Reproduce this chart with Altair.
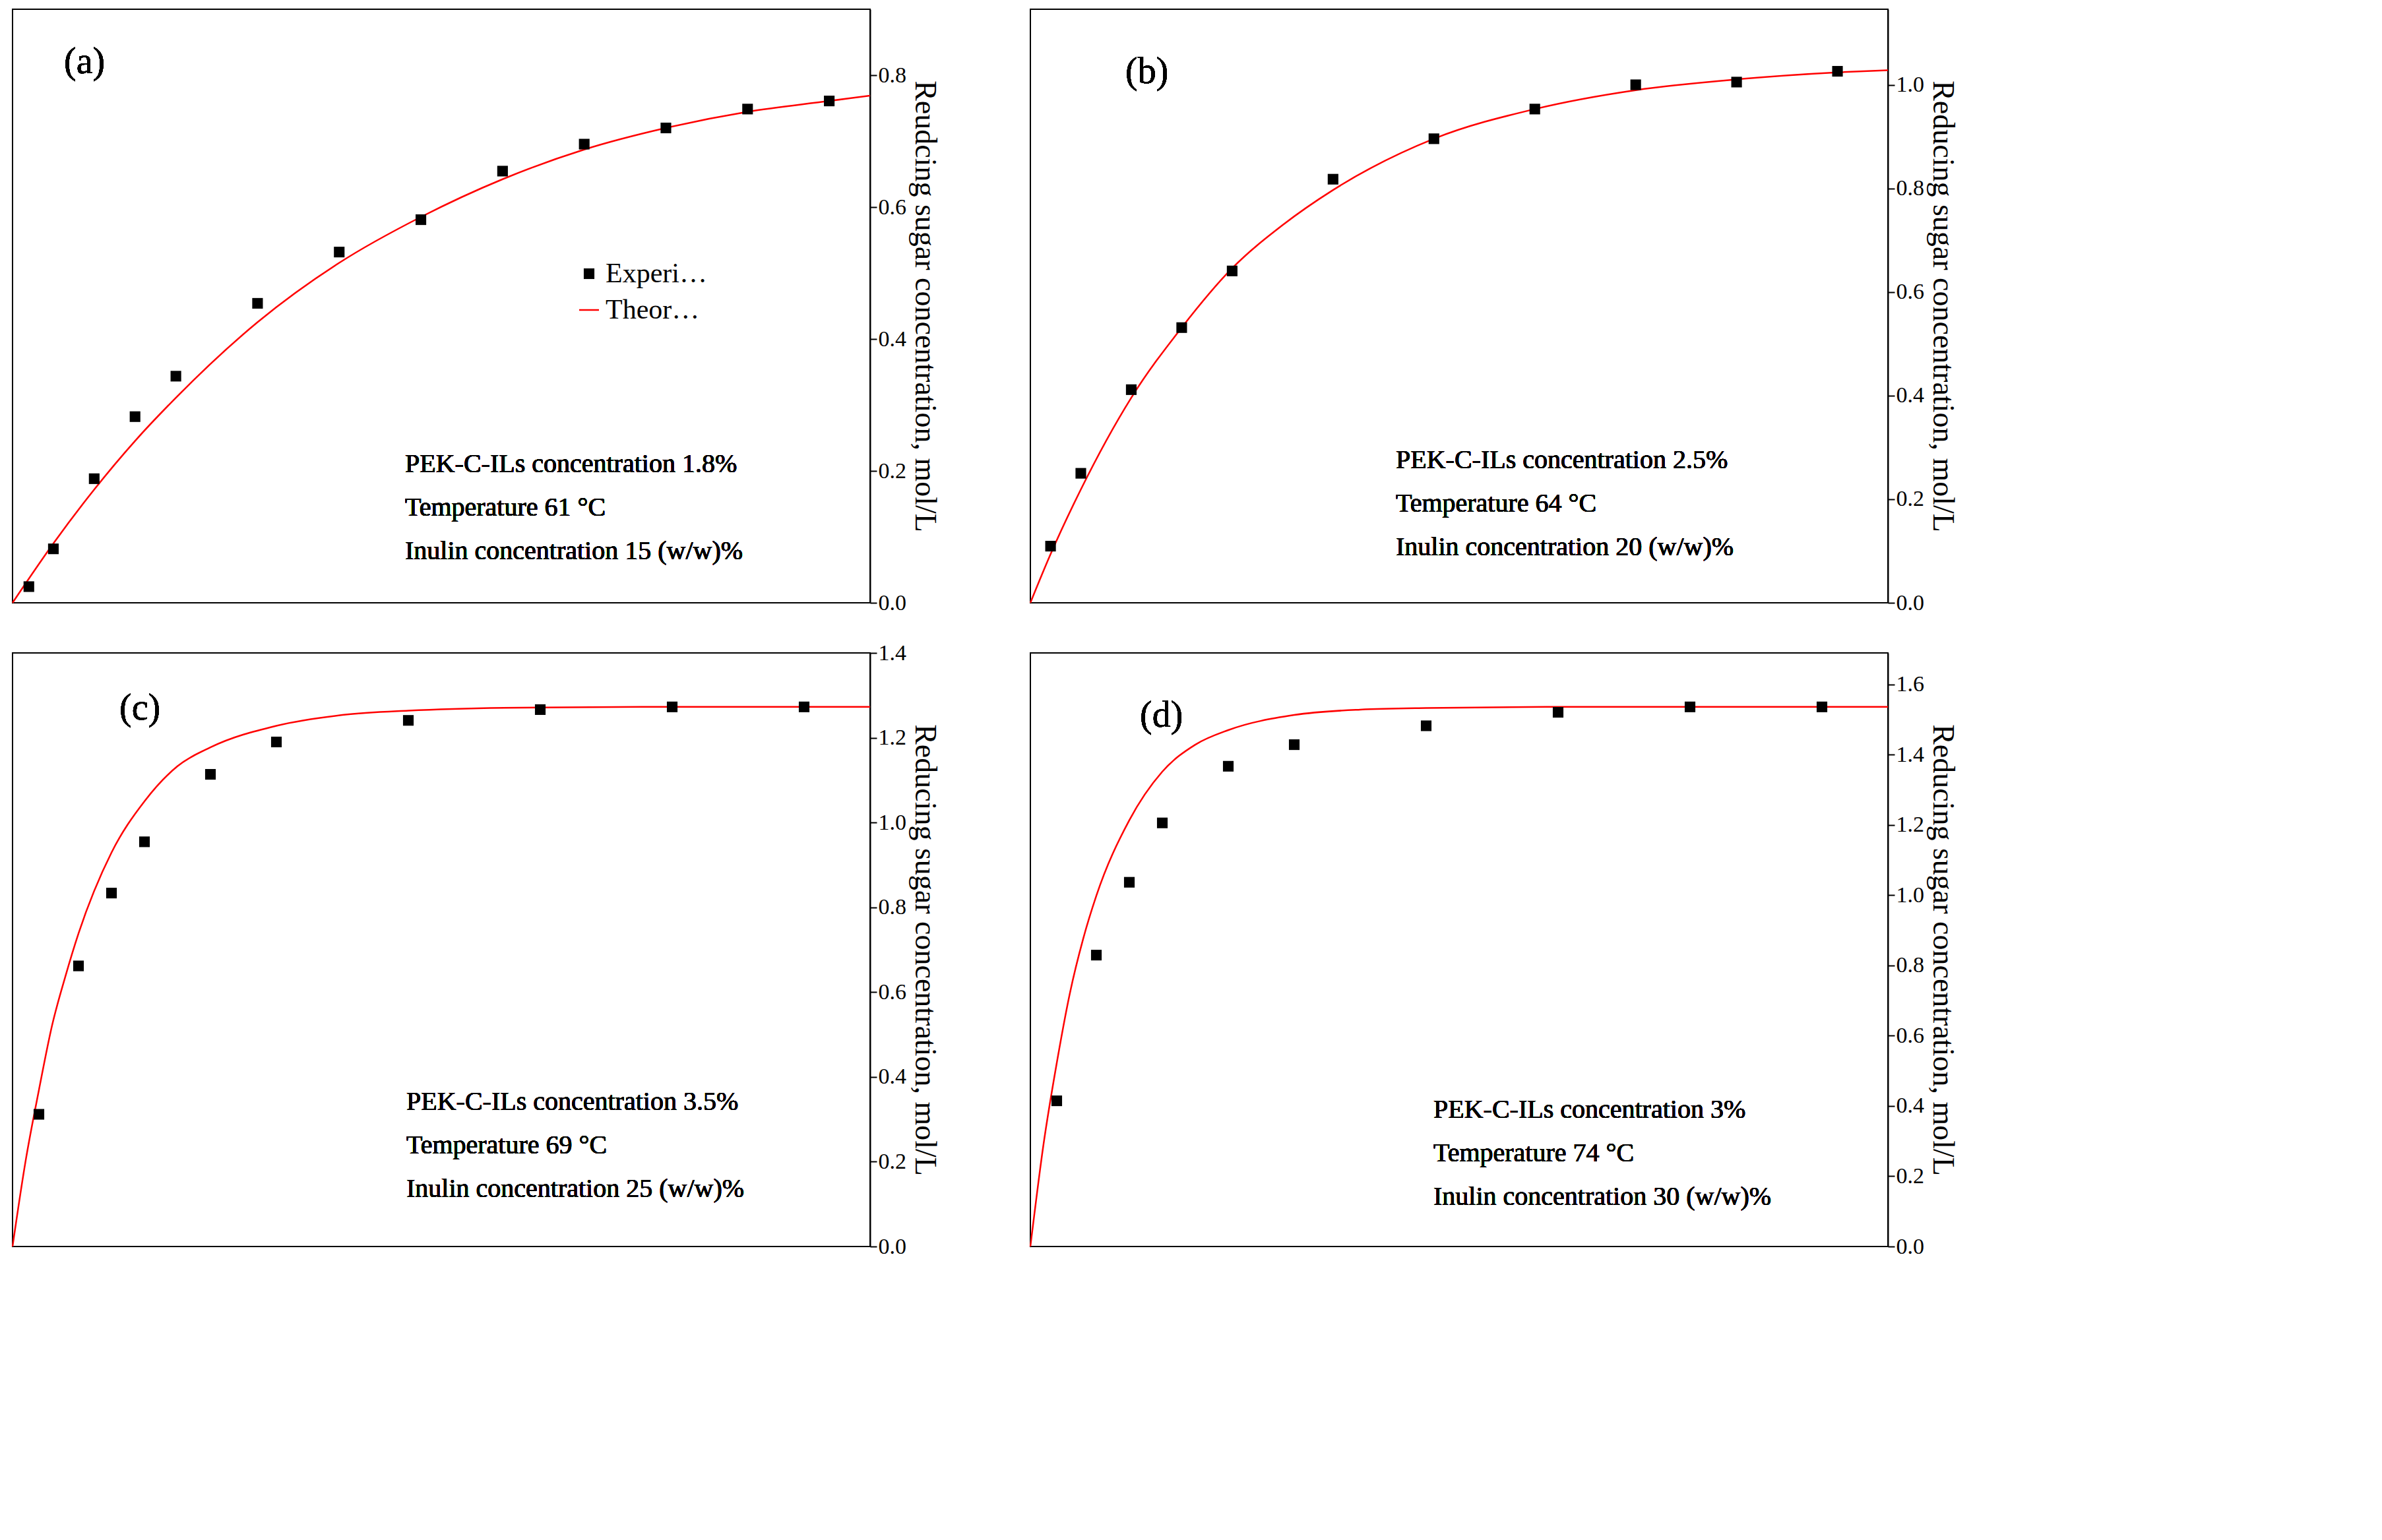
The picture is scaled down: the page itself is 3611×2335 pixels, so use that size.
import altair as alt
import pandas as pd

FONT = "Liberation Serif"

# panel (a)
a_exp_t = [2, 5, 10, 15, 20, 30, 40, 50, 60, 70, 80, 90, 100]
a_exp_h = [3, 10, 23, 34.5, 42, 55.5, 65, 71, 80, 85, 88, 91.5, 93]
a_th_t = [0, 5, 10, 15, 20, 30, 40, 50, 60, 70, 80, 90, 100, 105]
a_th_h = [0, 11, 21, 30, 38, 52, 63, 71.5, 78.5, 84, 88, 91, 93, 94]

# panel (b)
b_exp_t = [2, 5, 10, 15, 20, 30, 40, 50, 60, 70, 80]
b_exp_h = [10.5, 24, 39.5, 51, 61.5, 78.5, 86, 91.5, 96, 96.5, 98.5]
b_th_t = [0, 2, 5, 10, 15, 20, 25, 30, 40, 50, 60, 70, 80, 85]
b_th_h = [0, 9, 21, 38, 51, 62, 70, 76.5, 86, 91.5, 95, 97, 98.3, 98.7]

# panel (c)
c_exp_t = [2, 5, 7.5, 10, 15, 20, 30, 40, 50, 60]
c_exp_h = [24.5, 52, 65.5, 75, 87.5, 93.5, 97.5, 99.5, 100, 100]
c_th_t = [0, 1, 2, 3, 4, 5, 7.5, 10, 12.5, 15, 20, 25, 30, 40, 50, 65]
c_th_h = [0, 16, 29, 41, 50, 58, 73, 82.5, 89, 92.5, 96.5, 98.5, 99.3, 99.9, 100, 100]

# panel (d)
d_exp_t = [2, 5, 7.5, 10, 15, 20, 30, 40, 50, 60]
d_exp_h = [27, 54, 67.5, 78.5, 89, 93, 96.5, 99, 100, 100]
d_th_t = [0, 1, 2, 3, 4, 5, 7.5, 10, 12.5, 15, 20, 25, 30, 40, 65]
d_th_h = [0, 19, 34, 47, 57, 65, 79, 88, 93, 95.7, 98.5, 99.5, 99.8, 100, 100]

W, H = 1300, 900


def panel(label, et, eh, tt, th, xmax, rmax, rticks, rtitle, texts, leg, txt_pos, lab_pos):
    exp = pd.DataFrame({"t": et, "h": eh, "s": "Experimental"})
    thd = pd.DataFrame({"t": tt, "h": th, "c": "Theoretical"})
    xsc = alt.Scale(domain=[0, xmax], nice=False)
    ysc = alt.Scale(domain=[0, 110], nice=False)
    xax = alt.Axis(values=list(range(0, xmax + 1, 10)), title="Reaction time, min",
                   grid=False, titlePadding=18)
    pts = alt.Chart(exp).mark_point(filled=True, shape="square", size=260, color="black",
                                    opacity=1).encode(
        x=alt.X("t:Q", scale=xsc, axis=xax),
        y=alt.Y("h:Q", scale=ysc, axis=alt.Axis(values=[0, 20, 40, 60, 80, 100],
                                                title="Hydrolysis ratio, %", grid=False)),
        shape=alt.Shape("s:N", scale=alt.Scale(range=["square"]),
                        legend=alt.Legend(title=None, orient="none", legendX=leg[0],
                                          legendY=leg[1], symbolFillColor="black",
                                          symbolStrokeColor="black", symbolSize=260)),
    )
    line = alt.Chart(thd).mark_line(color="red", strokeWidth=2.5, interpolate="monotone").encode(
        x=alt.X("t:Q", scale=xsc, axis=None),
        y=alt.Y("h:Q", scale=ysc, axis=None),
        color=alt.Color("c:N", scale=alt.Scale(range=["red"]),
                        legend=alt.Legend(title=None, orient="none", legendX=leg[0],
                                          legendY=leg[1] + 55, symbolType="stroke",
                                          symbolStrokeWidth=2.5, symbolSize=900)),
    )
    txt = alt.Chart(exp).mark_text(
        align="left", baseline="middle", fontSize=40, font=FONT, color="black",
        text=texts, lineHeight=txt_pos[2]).encode(
        x=alt.value(txt_pos[0]), y=alt.value(txt_pos[1]))
    lab = alt.Chart(exp).mark_text(
        align="left", fontSize=56, font=FONT, color="black", text=label).encode(
        x=alt.value(lab_pos[0]), y=alt.value(lab_pos[1]))
    main = alt.layer(line, pts, txt, lab)
    right = alt.Chart(pd.DataFrame({"r": rticks})).mark_point(opacity=0).encode(
        y=alt.Y("r:Q", scale=alt.Scale(domain=[0, rmax], nice=False),
                axis=alt.Axis(orient="right", values=rticks, format=".1f", title=rtitle,
                              grid=False)),
    )
    return alt.layer(main, right).resolve_scale(y="independent").properties(
        width=W, height=H)


pa = panel("(a)", a_exp_t, a_exp_h, a_th_t, a_th_h, 105, 0.9, [0, 0.2, 0.4, 0.6, 0.8],
           "Reudcing sugar concentration,  mol/L",
           ["PEK-C-ILs concentration 1.8%", "Temperature 61 °C",
            "Inulin concentration 15 (w/w)%"], (853, 380), (595, 690, 66), (78, 80))
pb = panel("(b)", b_exp_t, b_exp_h, b_th_t, b_th_h, 85, 1.146, [0, 0.2, 0.4, 0.6, 0.8, 1.0],
           "Reducing sugar concentration, mol/L",
           ["PEK-C-ILs concentration 2.5%", "Temperature 64 °C",
            "Inulin concentration 20 (w/w)%"], (816, 362), (554, 684, 66), (144, 95))
pc = panel("(c)", c_exp_t, c_exp_h, c_th_t, c_th_h, 65, 1.4,
           [0, 0.2, 0.4, 0.6, 0.8, 1.0, 1.2, 1.4],
           "Reducing sugar concentration, mol/L",
           ["PEK-C-ILs concentration 3.5%", "Temperature 69 °C",
            "Inulin concentration 25 (w/w)%"], (805, 378), (597, 681, 66), (162, 84))
pd_ = panel("(d)", d_exp_t, d_exp_h, d_th_t, d_th_h, 65, 1.69,
            [0, 0.2, 0.4, 0.6, 0.8, 1.0, 1.2, 1.4, 1.6],
            "Reducing sugar concentration, mol/L",
            ["PEK-C-ILs concentration 3%", "Temperature 74 °C",
             "Inulin concentration 30 (w/w)%"], (839, 389), (611, 693, 66), (166, 95))

chart = alt.vconcat(
    alt.hconcat(pa, pb, spacing=130),
    alt.hconcat(pc, pd_, spacing=130),
    spacing=40,
).properties(background="white").configure_view(
    stroke="black", strokeWidth=2
).configure_axis(
    labelFont=FONT, titleFont=FONT, labelFontSize=34, titleFontSize=46,
    titleFontWeight="normal", labelColor="black", titleColor="black",
    domainColor="black", tickColor="black", domainWidth=2, tickWidth=2, tickSize=10,
).configure_legend(labelFont=FONT, labelFontSize=42, labelColor="black")

chart.save("out.html", embed_options={"renderer": "svg", "actions": False})
